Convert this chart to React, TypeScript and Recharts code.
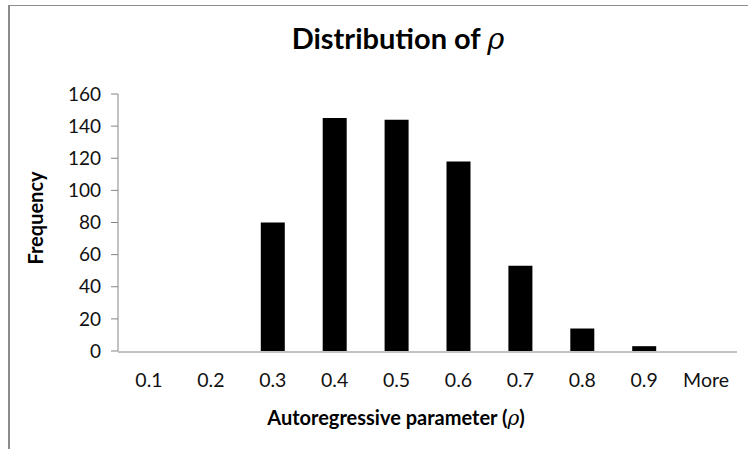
import React from "react";
import {
  BarChart,
  Bar,
  XAxis,
  YAxis,
  Customized,
} from "recharts";

const categories = ["0.1", "0.2", "0.3", "0.4", "0.5", "0.6", "0.7", "0.8", "0.9", "More"];
const frequency = [0, 0, 80, 145, 144, 118, 53, 14, 3, 0];
const yTicks = [0, 20, 40, 60, 80, 100, 120, 140, 160];

const data = categories.map((bin, i) => ({ bin, frequency: frequency[i] }));
// bin edges for the tick marks between the categories
const edgeTicks = [...categories.map((_, i) => i), categories.length];

const FONT = "Lato, 'Open Sans', sans-serif";
const AXIS = "#868686";

function Labels() {
  return (
    <g fontFamily={FONT} fontWeight={700} fill="#000">
      <text x={398} y={49} fontSize={29} textAnchor="middle">
        Distribution of{" "}
        <tspan fontFamily="'DejaVu Serif', serif" fontStyle="italic" fontWeight={400}>
          ρ
        </tspan>
      </text>
      <text x={396} y={425} fontSize={20} textAnchor="middle">
        Autoregressive parameter (
        <tspan fontFamily="'DejaVu Serif', serif" fontStyle="italic" fontWeight={400}>
          ρ
        </tspan>
        )
      </text>
      <text
        x={43}
        y={218}
        fontSize={20}
        textAnchor="middle"
        transform="rotate(-90 43 218)"
      >
        Frequency
      </text>
    </g>
  );
}

export default function App() {
  return (
    <div
      style={{
        position: "absolute",
        left: 0,
        top: 0,
        width: 748,
        height: 449,
        overflow: "hidden",
        background: "#fff",
      }}
    >
      <div
        style={{
          position: "absolute",
          left: 8,
          top: 5,
          width: 800,
          height: 500,
          borderTop: "1.5px solid #8c8c8c",
          borderLeft: "2px solid #8c8c8c",
        }}
      />
      <div style={{ position: "absolute", left: 0, top: 0 }}>
        <BarChart
          width={748}
          height={449}
          data={data}
          margin={{ top: 94, left: 117, right: 11, bottom: 96 }}
          barSize={24}
        >
          <XAxis
            xAxisId="edges"
            type="number"
            domain={[0, categories.length]}
            ticks={edgeTicks}
            allowDataOverflow
            height={1}
            tick={false}
            tickSize={6}
            axisLine={{ stroke: AXIS }}
            tickLine={{ stroke: AXIS }}
          />
          <XAxis
            xAxisId="cat"
            dataKey="bin"
            height={1}
            axisLine={false}
            tickLine={false}
            tickSize={0}
            tickMargin={22}
            interval={0}
            tick={{ fill: "#111", fontSize: 19.5, fontFamily: FONT }}
          />
          <YAxis
            width={1}
            domain={[0, 160]}
            ticks={yTicks}
            interval={0}
            tickSize={7}
            tickMargin={10}
            axisLine={{ stroke: AXIS }}
            tickLine={{ stroke: AXIS }}
            tick={{ fill: "#111", fontSize: 19, fontFamily: FONT }}
          />
          <Bar
            xAxisId="cat"
            dataKey="frequency"
            fill="#000"
            isAnimationActive={false}
          />
          <Customized component={Labels} />
        </BarChart>
      </div>
    </div>
  );
}
